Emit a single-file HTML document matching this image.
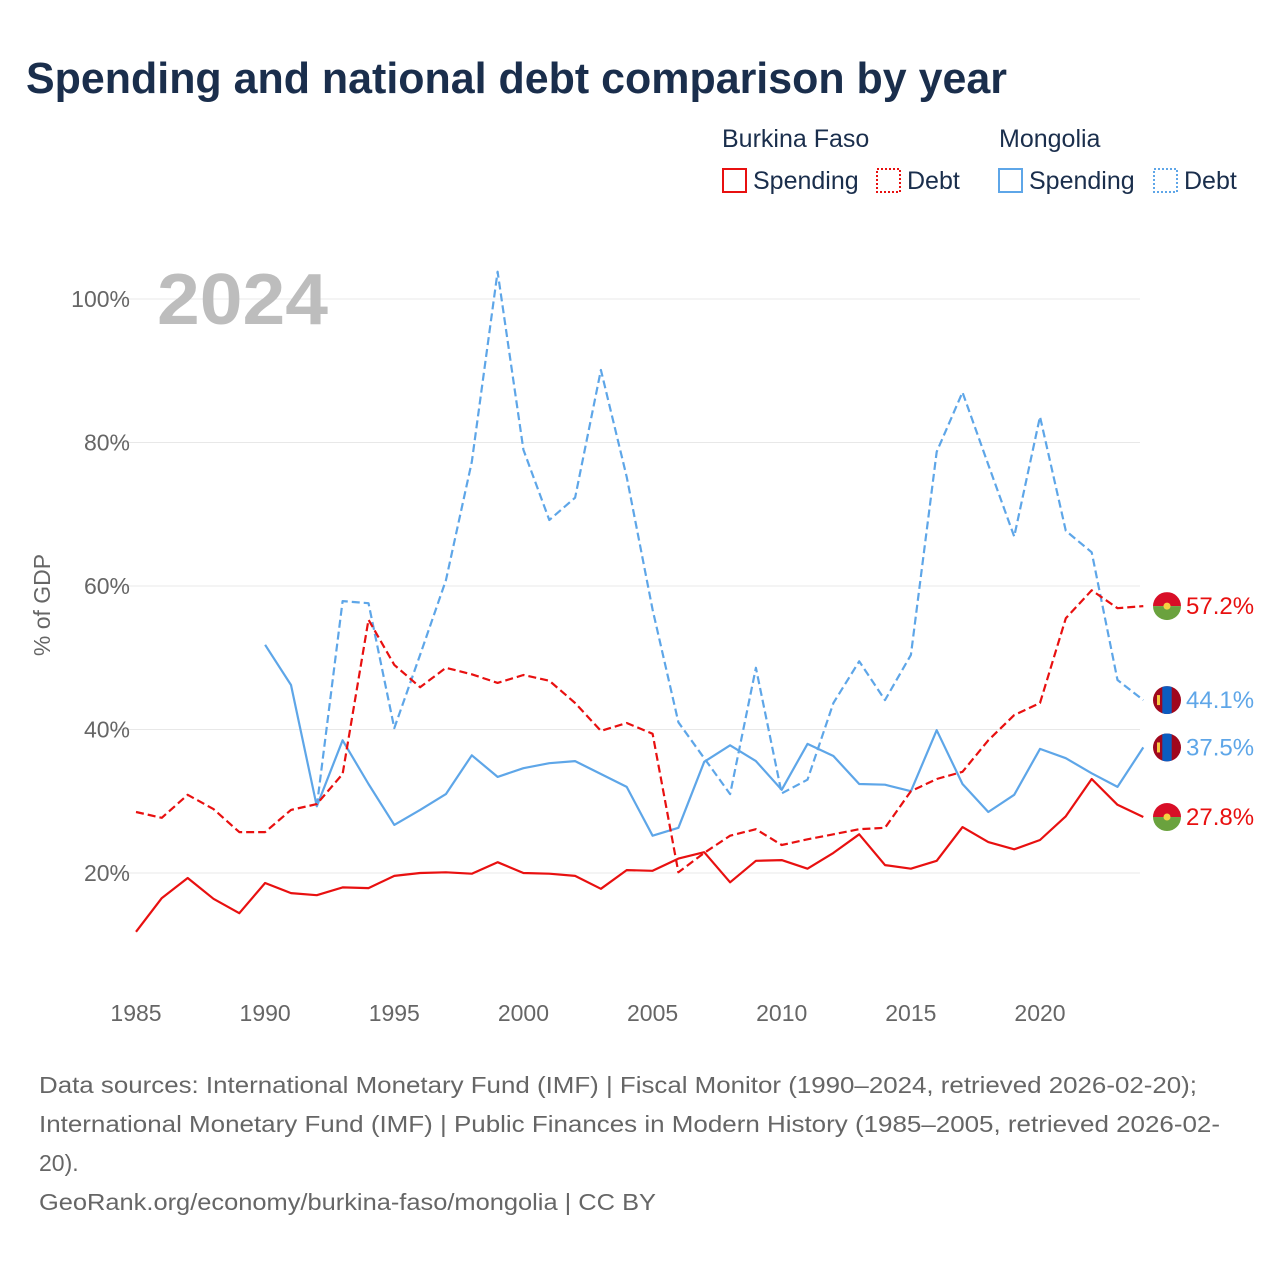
<!DOCTYPE html>
<html><head><meta charset="utf-8"><style>
body{margin:0;background:#fff;font-family:"Liberation Sans",sans-serif;}
#wrap{position:relative;width:1280px;height:1280px;overflow:hidden;}
</style></head><body>
<div id="wrap">
<svg id="svg" width="1280" height="1280" xmlns="http://www.w3.org/2000/svg">
<text x="26" y="93" font-size="44" font-weight="bold" fill="#1a2e4c" textLength="981" lengthAdjust="spacingAndGlyphs">Spending and national debt comparison by year</text>
<g font-size="25" fill="#1a2e4c">
<text x="722" y="147">Burkina Faso</text>
<text x="999" y="147">Mongolia</text>
<rect x="723" y="169" width="23" height="23" fill="none" stroke="#e81010" stroke-width="2"/>
<text x="753" y="189">Spending</text>
<rect x="877" y="169" width="23" height="23" fill="none" stroke="#e81010" stroke-width="2" stroke-dasharray="2,2"/>
<text x="907" y="189">Debt</text>
<rect x="999" y="169" width="23" height="23" fill="none" stroke="#5ea6e8" stroke-width="2"/>
<text x="1029" y="189">Spending</text>
<rect x="1154" y="169" width="23" height="23" fill="none" stroke="#5ea6e8" stroke-width="2" stroke-dasharray="2,2"/>
<text x="1184" y="189">Debt</text>
</g>
<g id="grid"></g>
<text x="157" y="324" font-size="72" font-weight="bold" fill="#bdbdbd" textLength="171" lengthAdjust="spacingAndGlyphs">2024</text>
<text transform="translate(50,605) rotate(-90)" text-anchor="middle" font-size="23" fill="#666">% of GDP</text>
<g id="series"></g>
<g id="ends"></g>
<g font-size="23" fill="#666">
<text x="39" y="1093" textLength="1158" lengthAdjust="spacingAndGlyphs">Data sources: International Monetary Fund (IMF) | Fiscal Monitor (1990–2024, retrieved 2026-02-20);</text>
<text x="39" y="1132" textLength="1181" lengthAdjust="spacingAndGlyphs">International Monetary Fund (IMF) | Public Finances in Modern History (1985–2005, retrieved 2026-02-</text>
<text x="39" y="1171">20).</text>
<text x="39" y="1210" textLength="617" lengthAdjust="spacingAndGlyphs">GeoRank.org/economy/burkina-faso/mongolia | CC BY</text>
</g>
</svg>
</div>
<script>
const years=[];for(let y=1985;y<=2024;y++)years.push(y);
const yTicks=[20,40,60,80,100];
const xTicks=[1985,1990,1995,2000,2005,2010,2015,2020];
const bfSpending=[11.8,16.5,19.3,16.4,14.4,18.6,17.2,16.9,18.0,17.9,19.6,20,20.1,19.9,21.5,20,19.9,19.6,17.8,20.4,20.3,22,22.9,18.7,21.7,21.8,20.6,22.8,25.4,21.1,20.6,21.7,26.4,24.3,23.3,24.6,27.9,33.1,29.5,27.8];
const bfDebt=[28.5,27.7,30.9,28.9,25.7,25.7,28.8,29.6,33.8,55.3,49,45.9,48.6,47.7,46.5,47.6,46.8,43.7,39.8,40.9,39.4,20.1,22.8,25.2,26.1,23.9,24.7,25.4,26.1,26.3,31.4,33.1,34.1,38.5,42,43.7,55.5,59.4,56.9,57.2];
const mnSpending=[null,null,null,null,null,51.8,46.2,29.3,38.5,32.4,26.7,28.8,31,36.4,33.4,34.6,35.3,35.6,33.8,32,25.2,26.3,35.5,37.8,35.6,31.6,38,36.3,32.4,32.3,31.4,39.9,32.4,28.5,30.9,37.3,36,33.9,32,37.5];
const mnDebt=[null,null,null,null,null,null,null,29.3,57.9,57.6,40.2,50.4,60.8,77.3,103.8,79,69.2,72.3,90.1,75.2,56.7,41,36,31,48.6,31.1,33,43.7,49.5,44.1,50.4,78.7,87,76.9,66.9,83.6,67.7,64.7,46.9,44.1];
const NS="http://www.w3.org/2000/svg";
const X=y=>136+(y-1985)*(904/35);
const Y=v=>873-(v-20)*7.175;
function mk(t,a,p){const e=document.createElementNS(NS,t);for(const k in a)e.setAttribute(k,a[k]);p.appendChild(e);return e;}
const grid=document.getElementById('grid');
yTicks.forEach(v=>{
 const l=mk('line',{x1:110,x2:1140,y1:Y(v),y2:Y(v),stroke:'#e8e8e8','stroke-width':1},grid);
 
 
 const t=mk('text',{x:130,y:Y(v)+8,'text-anchor':'end','font-size':23,fill:'#666'},grid);t.textContent=v+'%';
 
 
});
xTicks.forEach(y=>{
 const t=mk('text',{x:X(y),y:1021,'text-anchor':'middle','font-size':23,fill:'#666'},grid);t.textContent=y;
 
 
});
const sg=document.getElementById('series');
function line(data,color,dash,name){
 let d='';let pen=false;
 data.forEach((v,i)=>{if(v==null){pen=false;return;}d+=(pen?'L':'M')+X(years[i]).toFixed(1)+','+Y(v).toFixed(1);pen=true;});
 const a={d:d,fill:'none',stroke:color,'stroke-width':2.2,'stroke-linejoin':'round'};if(dash)a['stroke-dasharray']='8,4';
 const p=mk('path',a,sg);
 
 
}
line(mnDebt,'#5ea6e8',true,'line-mongolia-debt');
line(mnSpending,'#5ea6e8',false,'line-mongolia-spending');
line(bfDebt,'#e81010',true,'line-burkina-debt');
line(bfSpending,'#e81010',false,'line-burkina-spending');
const eg=document.getElementById('ends');
function flag(cy,type,val,color,name){
 const g=mk('g',{},eg);
 
 
 const cx=1167,r=14,id='c'+name;
 const cp=mk('clipPath',{id:id},g);mk('circle',{cx:cx,cy:cy,r:r},cp);
 const f=mk('g',{'clip-path':'url(#'+id+')'},g);
 if(type==='bf'){mk('rect',{x:cx-r,y:cy-r,width:2*r,height:r,fill:'#d80e27'},f);mk('rect',{x:cx-r,y:cy,width:2*r,height:r,fill:'#6aa23e'},f);mk('circle',{cx:cx,cy:cy,r:3.5,fill:'#f5d142'},f);}
 else{mk('rect',{x:cx-r,y:cy-r,width:2*r,height:2*r,fill:'#a0071d'},f);mk('rect',{x:cx-4.7,y:cy-r,width:9.4,height:2*r,fill:'#0b5cc0'},f);mk('rect',{x:cx-10,y:cy-5,width:3,height:10,fill:'#f5c842'},f);}
 const t=mk('text',{x:1186,y:cy+8,'font-size':24,fill:color},g);t.textContent=val.toFixed(1)+'%';
}
const last=years.length-1;
flag(Y(bfDebt[last]),'bf',bfDebt[last],'#e81010','end-label-bf-debt');
flag(Y(mnDebt[last]),'mn',mnDebt[last],'#5ea6e8','end-label-mn-debt');
flag(Y(mnSpending[last]),'mn',mnSpending[last],'#5ea6e8','end-label-mn-spending');
flag(Y(bfSpending[last]),'bf',bfSpending[last],'#e81010','end-label-bf-spending');
</script>
</body></html>
